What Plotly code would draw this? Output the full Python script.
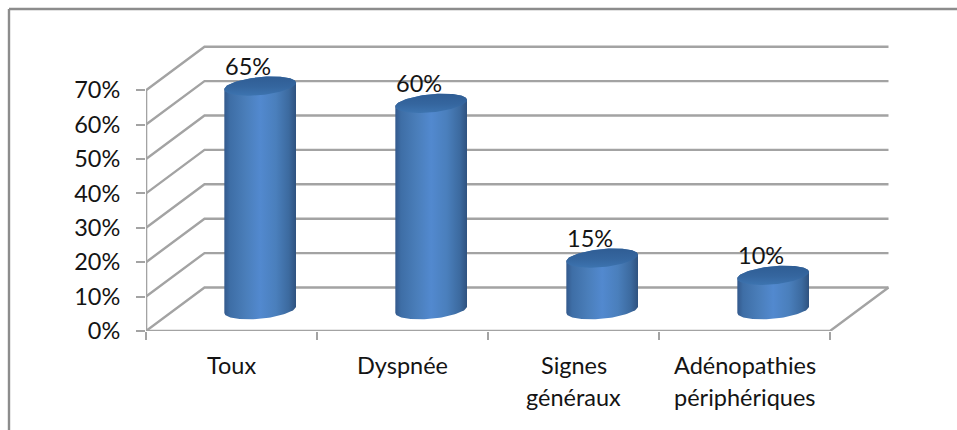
import numpy as np
import plotly.graph_objects as go

# Data
categories = ["Toux", "Dyspnée", "Signes généraux", "Adénopathies périphériques"]
percentages = [65, 60, 15, 10]
axis_values = [0, 10, 20, 30, 40, 50, 60, 70]
axis_labels = ["0%", "10%", "20%", "30%", "40%", "50%", "60%", "70%"]

# Figure and plot-area size in pixels
WIDTH, HEIGHT = 957, 430
M_L, M_R, M_T, M_B = 146, 40, 20, 99
PX_PER_CAT = 171.0
PX_PER_PCT = 3.44
plot_w = WIDTH - M_L - M_R
plot_h = HEIGHT - M_T - M_B
x_max = plot_w / PX_PER_CAT
y_max = plot_h / PX_PER_PCT

# Oblique depth of the pseudo-3D box, in axis units
DEPTH_X = 58.5 / PX_PER_CAT
DEPTH_Y = 43.5 / PX_PER_PCT
MID = 0.49

GRID = "#a3a3a3"
FONT = "Lato"
FONT_SIZE = 23.5
TEXT = "#141414"

# Cylinder ellipse in pixels
R_A, R_B, TILT = 36.0, 9.0, np.radians(5.6)


def ellipse(cx, cy, t):
    """Tilted ellipse around an axis-space centre, returned in axis units."""
    px = R_A * np.cos(t) * np.cos(TILT) - R_B * np.sin(t) * np.sin(TILT)
    py = R_A * np.cos(t) * np.sin(TILT) + R_B * np.sin(t) * np.cos(TILT)
    return cx + px / PX_PER_CAT, cy + py / PX_PER_PCT


fig = go.Figure()

# Walls and floor
for v in axis_values:
    fig.add_trace(go.Scatter(
        x=[0, DEPTH_X, 4 + DEPTH_X], y=[v, v + DEPTH_Y, v + DEPTH_Y],
        mode="lines", line=dict(color=GRID, width=2.4), hoverinfo="skip"))
fig.add_trace(go.Scatter(
    x=[0, 4, 4 + DEPTH_X], y=[0, 0, DEPTH_Y],
    mode="lines", line=dict(color=GRID, width=2.4), hoverinfo="skip"))
fig.add_trace(go.Scatter(
    x=[0, 0], y=[0, axis_values[-1]],
    mode="lines", line=dict(color=GRID, width=2.6), hoverinfo="skip"))

# Cylinders: shaded body, then the darker cap
body_scale = [[0, "#33598c"], [0.08, "#3e6ea6"], [0.3, "#4a7eba"], [0.5, "#5289cf"],
              [0.72, "#4a7fbc"], [0.9, "#3c6a9f"], [1, "#2f527f"]]
cap_scale = [[0, "#3d74b0"], [0.45, "#35669f"], [1, "#2f5d94"]]
t_tan = np.arctan2(-R_B * np.sin(TILT), R_A * np.cos(TILT))
for i, (name, val) in enumerate(zip(categories, percentages)):
    cx = i + 0.5 + DEPTH_X * MID
    base = DEPTH_Y * MID
    top = base + val
    # Lower arc of the base ellipse (left to right), upper arc of the top one (right to left)
    bx, by = ellipse(cx, base, np.linspace(t_tan + np.pi, t_tan + 2 * np.pi, 60))
    ux, uy = ellipse(cx, top, np.linspace(t_tan, t_tan + np.pi, 60))
    fig.add_trace(go.Scatter(
        x=np.concatenate([bx, ux]), y=np.concatenate([by, uy]),
        mode="lines", line=dict(width=0), fill="toself", name=name,
        fillgradient=dict(type="horizontal", colorscale=body_scale),
        hoverinfo="skip"))
    cap_x, cap_y = ellipse(cx, top, np.linspace(0, 2 * np.pi, 120))
    fig.add_trace(go.Scatter(
        x=cap_x, y=cap_y, mode="lines", line=dict(width=0), fill="toself",
        fillgradient=dict(type="vertical", colorscale=cap_scale),
        hoverinfo="skip"))
    # Value label above the cap
    fig.add_annotation(
        x=cx, y=top, text=f"{val}%", showarrow=False, xshift=-12, yshift=20.5,
        font=dict(family=FONT, size=FONT_SIZE, color=TEXT))

# Category labels, one word per line
for i, name in enumerate(categories):
    for row, word in enumerate(name.split(" ")):
        fig.add_annotation(
            x=i + 0.5, y=0, text=word, showarrow=False, xanchor="center",
            yanchor="middle", yshift=-(34 + 32 * row),
            font=dict(family=FONT, size=FONT_SIZE, color=TEXT))

# Chart frame: top and left edges only
fx = lambda px: (px - M_L) / plot_w
fy = lambda py: (HEIGHT - M_B - py) / plot_h
frame = dict(color="#8c8c8c", width=2.4)
fig.add_shape(type="line", xref="paper", yref="paper", layer="below",
              x0=fx(9), x1=fx(WIDTH), y0=fy(9), y1=fy(9), line=frame)
fig.add_shape(type="line", xref="paper", yref="paper", layer="below",
              x0=fx(9), x1=fx(9), y0=fy(9), y1=fy(HEIGHT), line=frame)

fig.update_layout(
    width=WIDTH, height=HEIGHT, autosize=False, showlegend=False,
    margin=dict(l=M_L, r=M_R, t=M_T, b=M_B),
    paper_bgcolor="white", plot_bgcolor="white",
    xaxis=dict(range=[0, x_max], showgrid=False, zeroline=False, showline=False,
               tickmode="array", tickvals=[0, 1, 2, 3, 4],
               ticktext=["", "", "", "", ""],
               ticks="outside", ticklen=8, tickwidth=2, tickcolor=GRID),
    yaxis=dict(range=[0, y_max], showgrid=False, zeroline=False, showline=False,
               tickmode="array", tickvals=axis_values, ticktext=axis_labels,
               ticks="outside", ticklen=9, tickwidth=2, tickcolor=GRID,
               ticklabelstandoff=11,
               tickfont=dict(family=FONT, size=FONT_SIZE, color=TEXT)),
)

fig.write_html("out.html")
